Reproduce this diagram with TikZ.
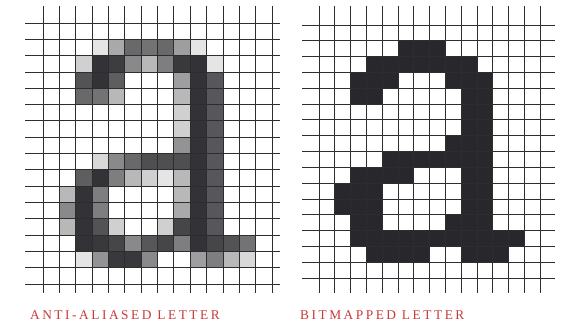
\documentclass[tikz,border=0pt]{standalone}
\usepackage{fontspec}
\usetikzlibrary{math}
\definecolor{myink}{RGB}{40,40,44}
\definecolor{mygrid}{RGB}{45,45,45}
\definecolor{myred}{RGB}{198,58,58}
\newfontfamily\labelfont[LetterSpace=19]{Liberation Serif}

\begin{document}
\begin{tikzpicture}[x=0.5mm,y=-0.5mm,
  gridline/.style={mygrid,line width=1.1pt},
  labeltext/.style={text=myred,font=\labelfont\fontsize{19}{21}\selectfont,inner sep=0pt,anchor=base west}]
\tikzmath{
\gxa=43; \gya=23; \cwa=16.36; \cha=16.31;
\gxb=319; \gyb=25; \cwb=15.79; \chb=15.81;
}
\useasboundingbox (0,0) rectangle (561,324);

% anti-aliased letter: column/row/shade
\foreach \c/\r/\g in {3/1/12,4/1/40,5/1/70,6/1/65,7/1/70,8/1/45,9/1/12,
  2/2/22,3/2/95,4/2/90,5/2/55,6/2/33,7/2/60,8/2/92,9/2/95,10/2/12,
  2/3/80,3/3/95,4/3/75,8/3/45,9/3/95,10/3/78,
  2/4/70,3/4/65,4/4/33,8/4/33,9/4/95,10/4/78,
  8/5/22,9/5/95,10/5/78, 8/6/22,9/6/95,10/6/78, 8/7/50,9/7/95,10/7/78,
  3/8/18,4/8/55,5/8/70,6/8/82,7/8/82,8/8/82,9/8/95,10/8/78,
  2/9/75,3/9/95,4/9/60,5/9/33,6/9/22,7/9/12,8/9/33,9/9/95,10/9/78,
  1/10/33,2/10/95,3/10/60,8/10/33,9/10/95,10/10/78,
  1/11/55,2/11/95,3/11/60,8/11/40,9/11/95,10/11/78,
  1/12/33,2/12/95,3/12/80,4/12/22,7/12/22,8/12/86,9/12/95,10/12/78,
  2/13/95,3/13/92,4/13/86,5/13/55,6/13/78,7/13/86,8/13/60,9/13/95,10/13/86,11/13/80,12/13/65,
  2/14/12,3/14/50,4/14/92,5/14/92,6/14/55,9/14/45,10/14/60,11/14/33,12/14/18}
  \fill[myink!\g] (\gxa+\c*\cwa,\gya+\r*\cha) rectangle ++(\cwa,\cha);

% bitmapped letter: row/first/last column
\foreach \r/\a/\b in {1/5/7,2/3/9,3/2/4,3/8/10,4/2/3,4/9/10,5/9/10,6/9/10,7/8/10,
  8/4/10,9/2/5,9/9/10,10/1/3,10/9/10,11/1/3,11/9/10,12/2/3,12/8/10,13/2/12,14/3/6,14/9/11}
  \fill[myink] (\gxb+\a*\cwb,\gyb+\r*\chb) rectangle (\gxb+\b*\cwb+\cwb,\gyb+\r*\chb+\chb);

% grids
\foreach \i in {0,...,14}{
  \draw[gridline] (\gxa+\i*\cwa,6) -- (\gxa+\i*\cwa,293);
  \draw[gridline] (\gxb+\i*\cwb,6) -- (\gxb+\i*\cwb,293);
}
\foreach \j in {0,...,16}{
  \draw[gridline] (25,\gya+\j*\cha) -- (280,\gya+\j*\cha);
  \draw[gridline] (302,\gyb+\j*\chb) -- (555,\gyb+\j*\chb);
}

\node[labeltext] (antilabel) at (30,319) {ANTI-ALIASED LETTER};
\node[labeltext] (bitlabel) at (300,319) {BITMAPPED LETTER};
\end{tikzpicture}
\end{document}
